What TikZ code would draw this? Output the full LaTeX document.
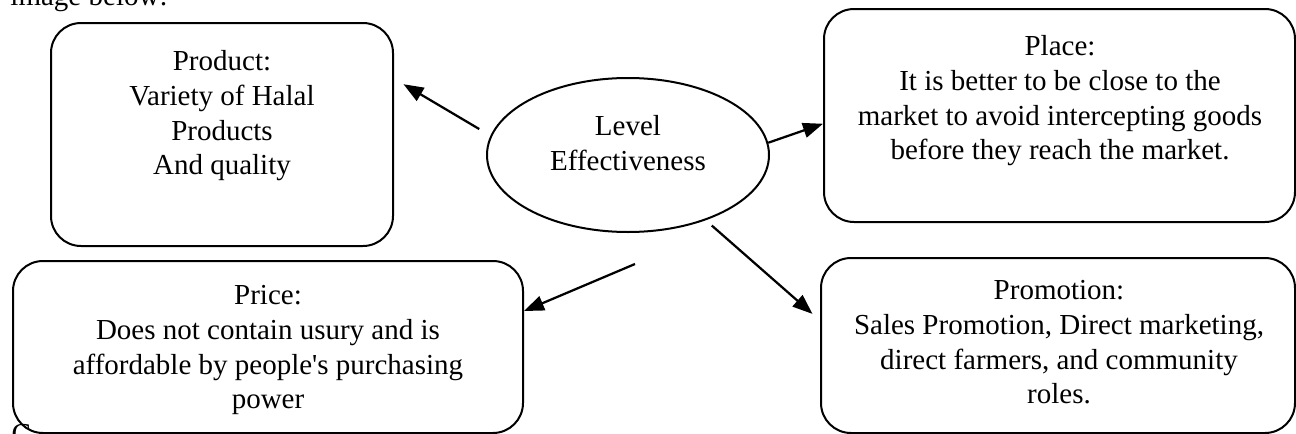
\documentclass[tikz,border=0pt]{standalone}
\usepackage{fontspec}
\setmainfont{Liberation Serif}
\usetikzlibrary{shapes.geometric}
\usetikzlibrary{arrows.meta}
\newlength\pxu
\setlength\pxu{0.4pt}

\begin{document}
\begin{tikzpicture}[x=0.4pt,y=-0.4pt,
      every node/.style={font=\fontsize{11.6}{13.9}\selectfont},
      box/.style={rectangle,draw=black,line width=0.8pt,rounded corners=12pt,inner sep=0pt},
      oval/.style={ellipse,draw=black,line width=0.8pt,inner sep=0pt},
      boxtext/.style={align=center,anchor=north,inner sep=0pt},
      arrow/.style={line width=0.9pt,-{Triangle[length=8pt,width=6pt]}}]
\useasboundingbox (0,0) rectangle (1296,434);
\node (above) [anchor=base west,inner sep=0pt] at (10,5) {image below:};
\node (cut) [anchor=base west,inner sep=0pt] at (11,443) {C};
\node (product) [box,minimum width=342\pxu,minimum height=223\pxu] at (222,134.5) {};
\node (place) [box,minimum width=471\pxu,minimum height=213\pxu] at (1059.5,115.5) {};
\node (price) [box,minimum width=510\pxu,minimum height=172\pxu] at (268,347) {};
\node (promotion) [box,minimum width=474\pxu,minimum height=175\pxu] at (1058,345.5) {};
\node (level) [oval,minimum width=282\pxu,minimum height=154\pxu] at (628,155) {};
\node (productText) [boxtext] at (222,50) {Product:\\Variety of Halal\\Products\\And quality};
\node (placeText) [boxtext] at (1060,35) {Place:\\It is better to be close to the\\market to avoid intercepting goods\\before they reach the market.};
\node (priceText) [boxtext] at (268,285) {Price:\\Does not contain usury and is\\affordable by people\textquotesingle s purchasing\\power};
\node (promotionText) [boxtext] at (1059,280) {Promotion:\\Sales Promotion, Direct marketing,\\direct farmers, and community\\roles.};
\node (levelText) [boxtext] at (628,115) {Level\\Effectiveness};
\coordinate (priceFrom) at (635,264);
\draw[arrow,shorten <=13\pxu,shorten >=11\pxu] (level.172) -- (product.18);
\draw[arrow] (level.5) -- (place.182);
\draw[arrow] (priceFrom) -- (price.8);
\draw[arrow,shorten <=8\pxu,shorten >=10\pxu] (level.320) -- (promotion.174);
\end{tikzpicture}
\end{document}
